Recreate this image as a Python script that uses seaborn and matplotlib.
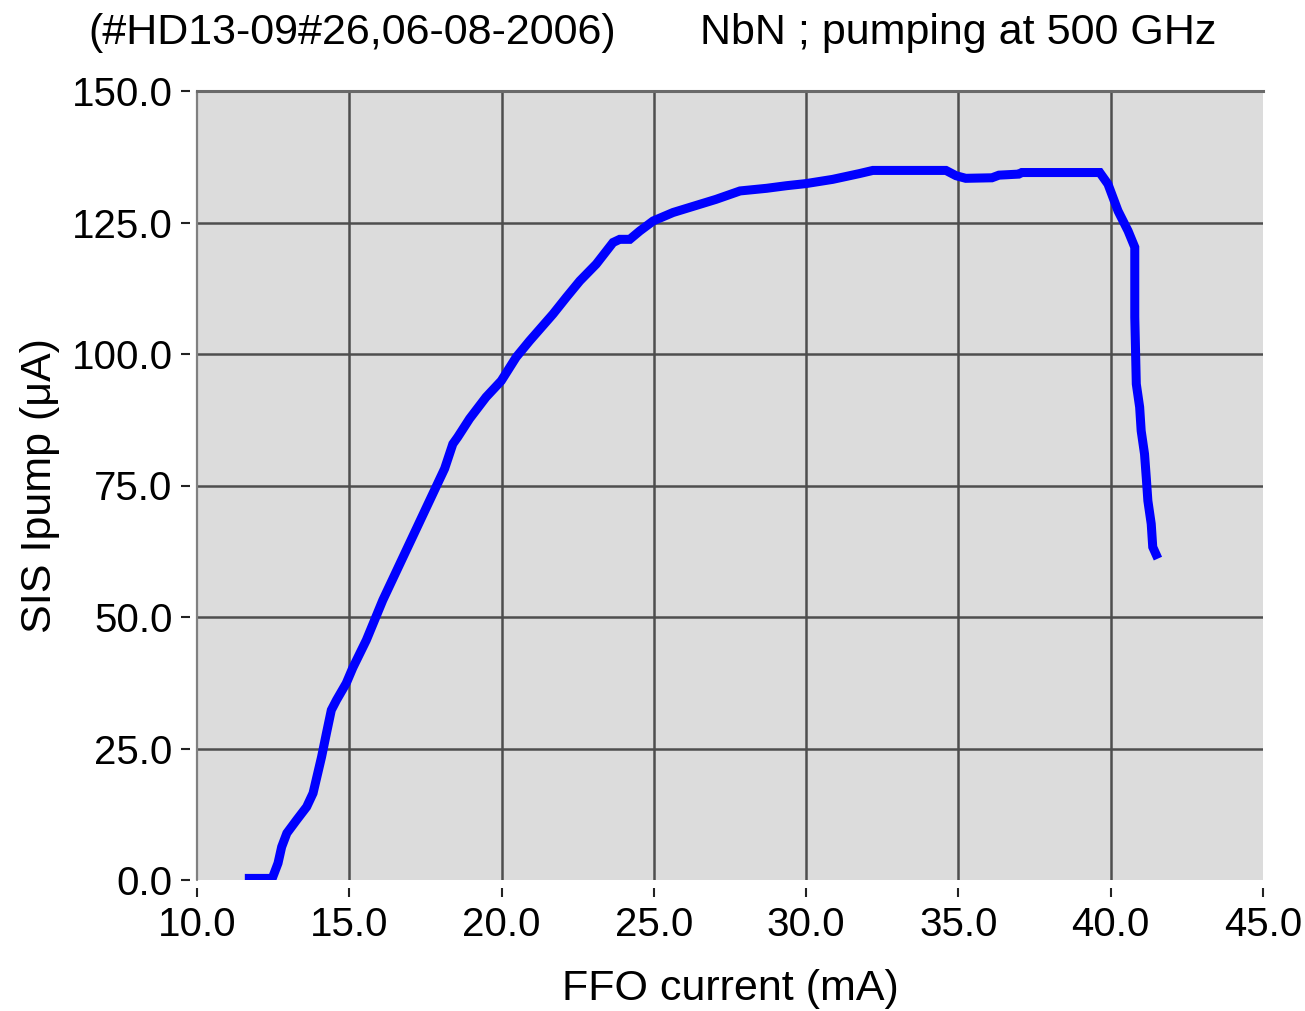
import matplotlib
matplotlib.use("Agg")
import matplotlib.pyplot as plt
from matplotlib import font_manager
import seaborn as sns
import pandas as pd

# FFO bias current (mA) and pumped SIS current (uA)
ffo_current_ma = [11.57, 12.47, 12.66, 12.78, 12.95, 13.27, 13.6, 13.81, 14.09, 14.25,
                  14.41, 14.58, 14.9, 15.12, 15.56, 16.1, 18.13, 18.4, 18.56, 18.95,
                  19.49, 19.99, 20.48, 20.92, 21.69, 22.13, 22.57, 23.11, 23.66, 23.88,
                  24.21, 24.54, 24.98, 25.63, 27.04, 27.83, 28.7, 29.36, 30.0, 30.87,
                  31.75, 32.19, 34.59, 34.92, 35.24, 36.1, 36.33, 36.98, 37.08, 39.64,
                  39.91, 40.24, 40.57, 40.79, 40.79, 40.84, 40.95, 41.0, 41.11, 41.17,
                  41.22, 41.33, 41.38, 41.55]
sis_ipump_ua = [0.3, 0.3, 3.2, 6.3, 8.9, 11.4, 13.9, 16.5, 23.4, 27.9,
                32.3, 34.2, 37.4, 40.4, 45.6, 53.2, 78.2, 82.9, 84.2, 87.7,
                91.8, 94.9, 99.4, 102.5, 107.6, 110.8, 113.9, 117.1, 121.2, 121.8,
                121.8, 123.4, 125.3, 126.9, 129.4, 131.0, 131.5, 132.0, 132.4, 133.2,
                134.3, 134.9, 134.9, 133.9, 133.4, 133.5, 134.0, 134.2, 134.5, 134.5,
                132.3, 127.2, 123.4, 120.3, 107.0, 94.3, 89.9, 85.4, 81.0, 76.3,
                72.1, 67.7, 63.3, 61.1]

x_ticks = [10.0, 15.0, 20.0, 25.0, 30.0, 35.0, 40.0, 45.0]
y_ticks = [0.0, 25.0, 50.0, 75.0, 100.0, 125.0, 150.0]
x_tick_labels = ["10.0", "15.0", "20.0", "25.0", "30.0", "35.0", "40.0", "45.0"]
y_tick_labels = ["0.0", "25.0", "50.0", "75.0", "100.0", "125.0", "150.0"]

title_left = "(#HD13-09#26,06-08-2006)"
title_right = "NbN ; pumping at 500 GHz"
x_label = "FFO current (mA)"
y_label = "SIS Ipump (\u03bcA)"

sns.set_theme(style="white")

available = {f.name for f in font_manager.fontManager.ttflist}
family = "Liberation Sans" if "Liberation Sans" in available else "DejaVu Sans"
plt.rcParams["font.family"] = [family, "DejaVu Sans"]
tick_size = 29
text_size = 31

df = pd.DataFrame({"ffo": ffo_current_ma, "ipump": sis_ipump_ua})

fig = plt.figure(figsize=(13.05, 10.11), dpi=100)
ax = fig.add_axes([197 / 1305, 1 - 880 / 1011, (1263 - 197) / 1305, (880 - 91) / 1011])
ax.set_facecolor("#DCDCDC")

ax.set_xlim(10, 45)
ax.set_ylim(0, 150)

# grid
for xv in x_ticks[1:-1]:
    ax.axvline(xv, color="#4E4E4E", lw=1.8, zorder=1)
for yv in y_ticks[1:-1]:
    ax.axhline(yv, color="#4E4E4E", lw=1.8, zorder=1)

sns.lineplot(data=df, x="ffo", y="ipump", sort=False, estimator=None,
             color="#0000FF", lw=6.5, ax=ax, zorder=3)
for line in ax.lines[-1:]:
    line.set_solid_capstyle("butt")
    line.set_solid_joinstyle("miter")

# frame: gray top and left borders only
for side in ["right", "bottom"]:
    ax.spines[side].set_visible(False)
ax.spines["top"].set_color("#6A6A6A")
ax.spines["top"].set_linewidth(2.2)
ax.spines["left"].set_visible(False)
ax.axvline(10, color="#808080", lw=1.6, zorder=2, clip_on=False)
ax.spines["bottom"].set_position(("outward", 6))
ax.spines["left"].set_position(("outward", 5))

ax.set_xticks(x_ticks)
ax.set_xticklabels(x_tick_labels)
ax.set_yticks(y_ticks)
ax.set_yticklabels(y_tick_labels)
ax.tick_params(axis="both", which="major", direction="out", length=6.5, width=1.5,
               color="#222222", labelsize=tick_size, labelcolor="black")
ax.tick_params(axis="x", pad=6, bottom=True)
ax.tick_params(axis="y", pad=6, left=True)

ax.set_xlabel(x_label, fontsize=text_size, labelpad=18, color="black")
ax.set_ylabel(y_label, fontsize=text_size, labelpad=8, color="black")

fig.text(88 / 1305, 1 - 33 / 1011, title_left, fontsize=text_size, ha="left",
         va="center", color="black")
fig.text(700 / 1305, 1 - 33 / 1011, title_right, fontsize=text_size, ha="left",
         va="center", color="black")

fig.savefig("out.png", dpi=100, facecolor="white")
